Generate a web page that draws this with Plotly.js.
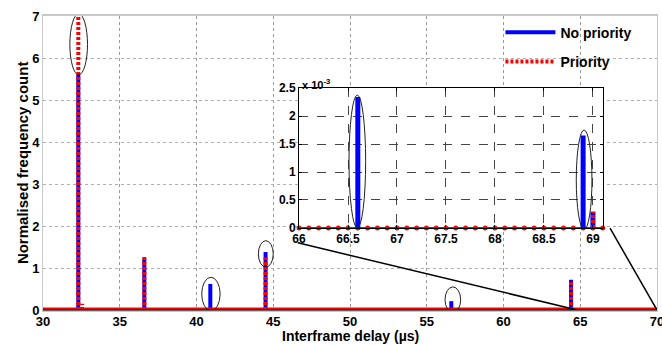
<!DOCTYPE html>
<html>
<head>
<meta charset="utf-8">
<script src="https://cdn.plot.ly/plotly-3.0.1.min.js"></script>
<style>html,body{margin:0;padding:0;background:#fff;}#chart{width:662px;height:345px;}</style>
</head>
<body>
<div id="chart"></div>
<script>
// ---- Main plot data (interframe delay in µs, normalised frequency count) ----
var delayRange = [30, 70];
var noPriorityX = [32.3, 36.6, 40.9, 44.5, 56.6, 64.4];
var noPriorityY = [5.6, 1.22, 0.62, 1.38, 0.21, 0.72];
var priorityX = [32.3, 32.55, 36.6, 44.5, 64.4];
var priorityY = [7.0, 0.15, 1.26, 1.25, 0.66];

// ---- Inset data (zoom on 66–69.1 µs) ----
var insetBins = [66.0, 66.1, 66.2, 66.3, 66.4, 66.5, 66.6, 66.7, 66.8, 66.9,
                 67.0, 67.1, 67.2, 67.3, 67.4, 67.5, 67.6, 67.7, 67.8, 67.9,
                 68.0, 68.1, 68.2, 68.3, 68.4, 68.5, 68.6, 68.7, 68.8, 68.9,
                 69.0, 69.1];
var insetPriorityBase = [0,0,0,0,0,0,0,0,0,0,0,0,0,0,0,0,0,0,0,0,0,0,0,0,0,0,0,0,0,0,0,0];
var insetNoPriorityX = [66.6, 68.9, 69.0];
var insetNoPriorityY = [0.00234, 0.00165, 0.00029];
var insetPriorityX = [69.0];
var insetPriorityY = [0.00029];

var xTicks = [30, 35, 40, 45, 50, 55, 60, 65, 70];
var yTicks = [0, 1, 2, 3, 4, 5, 6, 7];
var insetXTicks = [66, 66.5, 67, 67.5, 68, 68.5, 69];
var insetYTicks = [0, 0.0005, 0.001, 0.0015, 0.002, 0.0025];
var insetYTickText = ['0', '0.5', '1', '1.5', '2', '2.5'];

function stems(xs, ys) {
  var sx = [], sy = [];
  for (var i = 0; i < xs.length; i++) {
    sx.push(xs[i], xs[i], null);
    sy.push(0, ys[i], null);
  }
  return {x: sx, y: sy};
}
function bold(arr) { return arr.map(function (v) { return '<b>' + v + '</b>'; }); }

var BLUE = '#0000ff', RED = '#ff0000';
var FONT = 'Liberation Sans, Arial, sans-serif';

var sNo = stems(noPriorityX, noPriorityY);
var sPr = stems(priorityX, priorityY);
var iNo = stems(insetNoPriorityX, insetNoPriorityY);
var iPr = stems(insetPriorityX, insetPriorityY);

var traces = [
  {x: sNo.x, y: sNo.y, mode: 'lines', name: '<b>No priority</b>', legendgroup: 'a',
   line: {color: BLUE, width: 4}, xaxis: 'x', yaxis: 'y', hoverinfo: 'skip'},
  {x: delayRange, y: [0, 0], mode: 'lines', showlegend: false,
   line: {color: RED, width: 5}, xaxis: 'x', yaxis: 'y', cliponaxis: false, hoverinfo: 'skip'},
  {x: sPr.x, y: sPr.y, mode: 'lines', name: '<b>Priority</b>', legendgroup: 'b',
   line: {color: RED, width: 4, dash: '3px,2px'}, xaxis: 'x', yaxis: 'y', hoverinfo: 'skip'},
  // inset
  {x: insetBins, y: insetPriorityBase, mode: 'lines+markers', showlegend: false,
   line: {color: RED, width: 2}, marker: {color: RED, size: 5},
   xaxis: 'x2', yaxis: 'y2', cliponaxis: false, hoverinfo: 'skip'},
  {x: iNo.x, y: iNo.y, mode: 'lines', showlegend: false,
   line: {color: BLUE, width: 5}, xaxis: 'x2', yaxis: 'y2', hoverinfo: 'skip'},
  {x: iPr.x, y: iPr.y, mode: 'lines', showlegend: false,
   line: {color: RED, width: 4, dash: '3px,2px'}, xaxis: 'x2', yaxis: 'y2', hoverinfo: 'skip'}
];

function ell(xref, yref, x0, x1, y0, y1) {
  return {type: 'circle', xref: xref, yref: yref, x0: x0, x1: x1, y0: y0, y1: y1,
          line: {color: '#222', width: 1}, fillcolor: 'rgba(0,0,0,0)', layer: 'above'};
}

var layout = {
  width: 662, height: 345,
  margin: {l: 43, r: 5, t: 16, b: 35},
  paper_bgcolor: '#fff', plot_bgcolor: '#fff',
  font: {family: FONT, color: '#000', size: 14},
  showlegend: true,
  legend: {x: 0.745, y: 0.998, xanchor: 'left', yanchor: 'top', itemwidth: 50,
           bgcolor: 'rgba(0,0,0,0)', tracegroupgap: 8,
           font: {family: FONT, size: 14, color: '#000'}},
  xaxis: {domain: [0, 1], range: delayRange, tickvals: xTicks, ticktext: bold(xTicks), anchor: 'y',
          showgrid: true, gridcolor: '#9a9a9a', griddash: 'dot', gridwidth: 1,
          zeroline: false, showline: true, mirror: true, linecolor: '#c8c8c8', linewidth: 2,
          ticks: '', ticklabelstandoff: -2, ticklabeloverflow: 'allow', tickfont: {family: FONT, size: 13}},
  yaxis: {domain: [0, 1], range: [0, 7], tickvals: yTicks, ticktext: bold(yTicks), anchor: 'x',
          showgrid: true, gridcolor: '#b0b0b0', griddash: 'dot', gridwidth: 1,
          zeroline: false, showline: true, mirror: true, linecolor: '#c8c8c8', linewidth: 1,
          ticks: '', ticklabeloverflow: 'allow', tickfont: {family: FONT, size: 13}},
  xaxis2: {domain: [0.417, 0.9116], range: [66, 69.1], tickvals: insetXTicks, ticktext: bold(insetXTicks),
           anchor: 'y2', showgrid: true, gridcolor: '#444', griddash: 'dash', gridwidth: 1,
           zeroline: false, showline: true, mirror: 'ticks', linecolor: '#000', linewidth: 1,
           ticks: 'inside', ticklen: 3, tickcolor: '#000', ticklabeloverflow: 'allow',
           tickfont: {family: FONT, size: 12}},
  yaxis2: {domain: [0.279, 0.755], range: [0, 0.0025], tickvals: insetYTicks, ticktext: bold(insetYTickText),
           anchor: 'x2', showgrid: true, gridcolor: '#444', griddash: 'dash', gridwidth: 1,
           zeroline: false, showline: true, mirror: 'ticks', linecolor: '#000', linewidth: 1,
           ticks: 'inside', ticklen: 3, tickcolor: '#000', ticklabeloverflow: 'allow',
           tickfont: {family: FONT, size: 12}},
  annotations: [
    {xref: 'paper', yref: 'paper', x: 0.4186, y: 0.768, xanchor: 'left', yanchor: 'middle',
     text: '<b>x 10<sup>-3</sup></b>', showarrow: false, font: {family: FONT, size: 11}},
    {xref: 'paper', yref: 'paper', x: 0.5, y: -0.0901, xanchor: 'center', yanchor: 'middle',
     text: '<b>Interframe delay (µs)</b>', showarrow: false, borderpad: 0, font: {family: FONT, size: 14}},
    {xref: 'paper', yref: 'paper', x: -0.034, y: 0.5, xanchor: 'center', yanchor: 'middle',
     textangle: -90, text: '<b>Normalised frequency count</b>', showarrow: false,
     font: {family: FONT, size: 15}}
  ],
  shapes: [
    {type: 'line', xref: 'paper', yref: 'paper', x0: 0, x1: 1, y0: 0, y1: 0,
     line: {color: '#000', width: 1}, layer: 'above'},
    {type: 'line', xref: 'x', yref: 'y', x0: 46.6, y0: 1.6, x1: 64.8, y1: 0,
     line: {color: '#000', width: 1.5}, layer: 'above'},
    {type: 'line', xref: 'x', yref: 'y', x0: 66.94, y0: 1.95, x1: 70, y1: 0,
     line: {color: '#000', width: 1.5}, layer: 'above'},
    ell('x', 'y', 31.75, 32.9, 5.6, 7.05),
    ell('x', 'y', 40.34, 41.54, -0.02, 0.78),
    ell('x', 'y', 44.03, 45.0, 1.02, 1.65),
    ell('x', 'y', 56.19, 57.21, -0.06, 0.55),
    ell('x2', 'y2', 66.51, 66.68, 0, 0.002375),
    ell('x2', 'y2', 68.83, 68.99, -0.00003, 0.00175)
  ]
};

Plotly.newPlot('chart', traces, layout, {staticPlot: true, displayModeBar: false});
</script>
</body>
</html>
